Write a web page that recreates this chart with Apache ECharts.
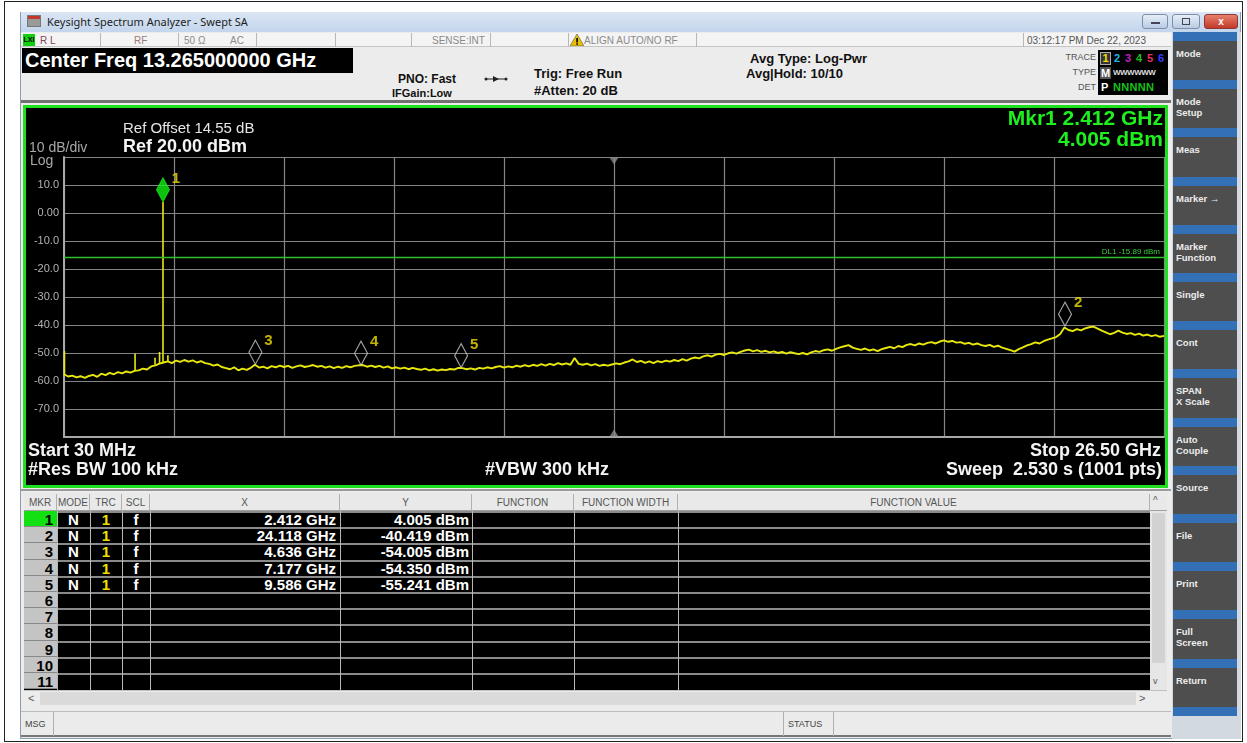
<!DOCTYPE html>
<html><head><meta charset="utf-8">
<script src="https://cdn.jsdelivr.net/npm/echarts@6.0.0/dist/echarts.min.js"></script>
<style>
html,body{margin:0;padding:0;background:#fff;width:1247px;height:743px;overflow:hidden;font-family:"Liberation Sans",Arial,sans-serif;}
.a{position:absolute;box-sizing:border-box;white-space:nowrap;}
.st{font-size:10px;color:#8a8a8a;top:35px;}
.sep{top:33px;height:14px;width:1px;background:#b8b8b8;}
.btn{position:absolute;left:1173px;width:64px;background:#4e4e4e;color:#ececec;font:bold 9.5px "Liberation Sans",Arial,sans-serif;padding:7px 0 0 3px;line-height:11px;box-sizing:border-box;}
.blue{position:absolute;left:1173px;width:64px;background:#3470b6;}
.hd{top:494px;height:17px;font-size:10px;color:#555;text-align:center;line-height:17px;border-right:1px solid #b0b0b0;}
.cell{font:bold 15px "Liberation Sans Narrow","Liberation Sans",Arial,sans-serif;line-height:16px;height:16px;color:#fff;}
</style>
</head><body>
<div class="a" style="left:4px;top:1px;width:1239px;height:741px;border:1px solid #222;"></div>
<!-- window -->
<div class="a" style="left:20px;top:12px;width:1221px;height:727px;background:#ececec;border:1px solid #8b9bb0;"></div>
<div class="a" style="left:21px;top:12px;width:1219px;height:20px;background:linear-gradient(#dbe6f4,#c3d5ec);"></div>
<div class="a" style="left:27px;top:15px;width:14px;height:12px;background:linear-gradient(#c0392b 0 35%,#9a9a9a 35%);border:1px solid #777;"></div>
<div class="a" style="left:47px;top:14px;font:11px 'Noto Sans','Open Sans',sans-serif;color:#1c1c1c;">Keysight Spectrum Analyzer - Swept SA</div>
<div class="a" style="left:1142px;top:14px;width:26px;height:15px;border:1px solid #7d8fa8;border-radius:3px;background:linear-gradient(#e6eef8,#b9cbe3);"><div class="a" style="left:8px;top:7px;width:9px;height:2px;background:#445;"></div></div>
<div class="a" style="left:1172px;top:14px;width:28px;height:15px;border:1px solid #7d8fa8;border-radius:3px;background:linear-gradient(#e6eef8,#b9cbe3);"><div class="a" style="left:9px;top:3px;width:8px;height:7px;border:1px solid #445;"></div></div>
<div class="a" style="left:1204px;top:14px;width:34px;height:15px;border:1px solid #8a3a30;border-radius:3px;background:linear-gradient(#e8806e,#c23a28);color:#fff;font:bold 10px Arial;text-align:center;line-height:13px;">x</div>

<!-- status row -->
<div class="a" style="left:21px;top:33px;width:1150px;height:14px;background:#f4f4f4;border-bottom:1px solid #c4c4c4;"></div>
<div class="a" style="left:23px;top:34px;width:12px;height:12px;background:#10d010;font:bold 7px Arial;color:#000;line-height:12px;text-align:center;">LXI</div>
<div class="a st" style="left:40px;color:#7d4656;">R L</div>
<div class="a st" style="left:134px;color:#9a7a7a;">RF</div>
<div class="a st" style="left:184px;">50 Ω</div>
<div class="a st" style="left:230px;">AC</div>
<div class="a st" style="left:432px;">SENSE:INT</div>
<svg class="a" style="left:570px;top:34px;" width="14" height="12"><polygon points="7,0 14,12 0,12" fill="#e8c000" stroke="#555" stroke-width="0.6"/><rect x="6.3" y="4" width="1.6" height="4.5" fill="#000"/><rect x="6.3" y="9.3" width="1.6" height="1.5" fill="#000"/></svg>
<div class="a st" style="left:584px;">ALIGN AUTO/NO RF</div>
<div class="a st" style="left:1027px;color:#555;">03:12:17 PM Dec 22, 2023</div>
<div class="a sep" style="left:100px"></div><div class="a sep" style="left:178px"></div><div class="a sep" style="left:256px"></div>
<div class="a sep" style="left:335px"></div><div class="a sep" style="left:411px"></div><div class="a sep" style="left:490px"></div>
<div class="a sep" style="left:568px"></div><div class="a sep" style="left:696px"></div><div class="a sep" style="left:1023px"></div>

<!-- info area -->
<div class="a" style="left:22px;top:48px;width:331px;height:25px;background:#000;color:#fff;font:bold 20px 'Liberation Sans',Arial;line-height:25px;padding-left:3px;">Center Freq 13.265000000 GHz</div>
<div class="a" style="left:398px;top:72px;font:bold 12px 'Liberation Sans';color:#111;">PNO: Fast</div>
<div class="a" style="left:392px;top:87px;font:bold 11px 'Liberation Sans';color:#111;">IFGain:Low</div>
<svg class="a" style="left:484px;top:75px;" width="24" height="8"><line x1="1" y1="4" x2="23" y2="4" stroke="#222" stroke-width="1"/><circle cx="2" cy="4" r="1.5" fill="#222"/><circle cx="22" cy="4" r="1.5" fill="#222"/><polygon points="9,1 15,4 9,7" fill="#222"/></svg>
<div class="a" style="left:534px;top:66px;font:bold 13px 'Liberation Sans';color:#111;">Trig: Free Run</div>
<div class="a" style="left:534px;top:83px;font:bold 13px 'Liberation Sans';color:#111;">#Atten: 20 dB</div>
<div class="a" style="left:750px;top:51px;font:bold 13px 'Liberation Sans';color:#111;">Avg Type: Log-Pwr</div>
<div class="a" style="left:746px;top:66px;font:bold 13px 'Liberation Sans';color:#111;">Avg|Hold: 10/10</div>
<div class="a" style="left:1050px;top:52px;width:46px;text-align:right;font:9px 'Liberation Sans';color:#555;">TRACE</div>
<div class="a" style="left:1050px;top:67px;width:46px;text-align:right;font:9px 'Liberation Sans';color:#555;">TYPE</div>
<div class="a" style="left:1050px;top:82px;width:46px;text-align:right;font:9px 'Liberation Sans';color:#555;">DET</div>
<div class="a" style="left:1098px;top:50px;width:70px;height:45px;background:#000;font:bold 11px 'Liberation Sans';">
  <div class="a" style="left:2px;top:2px;width:11px;height:13px;border:1px solid #aaa;background:#333;color:#f0e000;text-align:center;line-height:11px;">1</div>
  <div class="a" style="left:16px;top:2px;color:#20b8e8;">2</div>
  <div class="a" style="left:27px;top:2px;color:#c020c0;">3</div>
  <div class="a" style="left:38px;top:2px;color:#20c020;">4</div>
  <div class="a" style="left:49px;top:2px;color:#e83060;">5</div>
  <div class="a" style="left:60px;top:2px;color:#3a3aff;">6</div>
  <div class="a" style="left:2px;top:17px;width:11px;height:12px;background:#555;color:#fff;text-align:center;line-height:12px;">M</div>
  <div class="a" style="left:15px;top:18px;color:#ddd;font-size:8px;letter-spacing:-0.5px;">WWWWWW</div>
  <div class="a" style="left:3px;top:31px;color:#fff;">P</div>
  <div class="a" style="left:15px;top:31px;color:#19c019;letter-spacing:0.3px;">NNNNN</div>
</div>
<div class="a" style="left:21px;top:100px;width:1150px;height:3px;background:#707070;"></div>

<!-- plot panel -->
<div class="a" style="left:23px;top:105px;width:1145px;height:383px;border:3px solid #1ee01e;background:#000;">
  <div id="plot" style="position:absolute;left:0;top:0;width:1139px;height:377px;"></div>
</div>
<div class="a" style="left:21px;top:489px;width:1150px;height:2px;background:#9a9a9a;"></div>

<!-- marker table -->
<div id="table" class="a" style="left:24px;top:493px;width:1143px;height:214px;background:#000;"></div>

<!-- msg bar -->
<div class="a" style="left:21px;top:711px;width:1150px;height:26px;background:#ebebeb;border-top:1px solid #bcbcbc;border-bottom:2px solid #777;"></div>
<div class="a" style="left:25px;top:719px;font:9px 'Liberation Sans';color:#444;">MSG</div>
<div class="a" style="left:53px;top:712px;width:1px;height:24px;background:#b0b0b0;"></div>
<div class="a" style="left:783px;top:712px;width:1px;height:24px;background:#b0b0b0;"></div>
<div class="a" style="left:788px;top:719px;font:9px 'Liberation Sans';color:#444;">STATUS</div>
<div class="a" style="left:833px;top:712px;width:1px;height:24px;background:#b0b0b0;"></div>

<!-- sidebar -->
<div class="a" style="left:1172px;top:32px;width:69px;height:707px;background:#d3d9e1;"></div>
<div id="side"></div>

<script>
// ---------------- data ----------------
const START_GHZ = 0.03;
const STOP_GHZ = 26.5;
const REF_LEVEL_DBM = 20;
const DB_PER_DIV = 10;
const DISPLAY_LINE_DBM = -15.89;

// trace (dBm), evenly spaced sweep points from START_GHZ to STOP_GHZ
const traceLevels = [
-57.6,-58.4,-58.1,-58.7,-58.3,-58.9,-58.2,-57.8,-58.5,-57.4,
-57.9,-57.1,-57.6,-56.8,-57.3,-56.6,-57.0,-56.4,-56.2,-55.6,
-55.9,-54.8,-54.4,-53.8,-53.4,-53.0,-53.6,-52.7,-53.2,-52.5,
-53.1,-52.6,-53.4,-52.9,-53.6,-53.9,-54.5,-54.1,-55.0,-55.4,
-55.8,-55.1,-56.2,-55.6,-56.0,-55.3,-54.2,-55.2,-54.9,-55.5,
-54.7,-55.1,-54.5,-55.0,-54.6,-55.3,-54.8,-54.4,-55.0,-54.7,
-54.3,-54.9,-54.6,-55.2,-54.8,-55.4,-54.9,-55.3,-54.7,-55.1,
-54.6,-54.4,-54.3,-54.9,-54.5,-55.0,-54.6,-55.2,-54.8,-55.5,
-55.1,-55.6,-55.2,-55.8,-55.3,-55.7,-56.0,-55.6,-56.2,-55.8,
-56.3,-55.9,-56.1,-55.7,-55.9,-55.3,-55.4,-55.8,-55.5,-55.9,
-55.3,-55.6,-55.1,-55.5,-55.0,-54.7,-55.2,-54.8,-55.1,-54.5,
-54.9,-54.3,-54.8,-54.2,-54.6,-54.0,-54.5,-53.9,-54.3,-53.6,
-54.1,-53.7,-54.2,-51.8,-53.9,-54.2,-53.8,-54.4,-54.0,-54.6,
-54.2,-54.5,-54.1,-53.7,-54.0,-53.4,-53.0,-52.3,-53.2,-52.8,
-53.5,-53.0,-53.6,-52.9,-53.3,-52.7,-53.1,-52.5,-52.9,-52.2,
-52.7,-52.0,-51.6,-51.9,-51.2,-50.8,-51.3,-50.6,-50.3,-50.7,
-50.1,-49.8,-50.2,-49.6,-49.1,-48.8,-49.4,-49.0,-49.6,-49.2,
-49.8,-49.4,-50.0,-49.6,-50.2,-49.7,-50.1,-50.4,-50.0,-50.5,
-49.8,-49.3,-49.6,-49.0,-48.7,-49.2,-48.5,-48.0,-47.6,-47.2,
-48.1,-48.5,-48.9,-48.4,-49.1,-48.7,-49.3,-48.6,-48.2,-47.8,
-48.3,-47.5,-47.9,-47.1,-46.8,-47.3,-46.6,-47.0,-46.4,-46.1,
-46.6,-45.9,-45.5,-46.0,-45.7,-46.3,-46.1,-46.7,-46.4,-47.0,
-46.6,-47.2,-47.5,-47.1,-47.8,-47.4,-48.1,-48.5,-49.0,-49.5,
-48.6,-48.0,-47.3,-46.8,-46.2,-46.6,-45.8,-45.2,-44.8,-44.3,
-43.2,-40.9,-41.8,-42.2,-41.5,-41.9,-41.2,-40.8,-40.6,-41.3,
-42.0,-42.6,-43.3,-42.8,-42.0,-42.7,-43.2,-42.9,-43.5,-43.1,
-43.8,-43.4,-44.0,-43.6,-44.2,-43.9
];

// narrow spurs on the trace
const spurFreqsGHz = [0.04, 1.74, 2.22, 2.33, 2.412, 2.53];
const spurPeaksDbm = [-49.3, -50.2, -51.7, -49.6, 4.005, -50.8];
const spurBasesDbm = [-57.8, -56.4, -54.2, -53.8, -53.4, -53.0];

// markers
const markerIds = [1, 2, 3, 4, 5];
const markerFreqsGHz = [2.412, 24.118, 4.636, 7.177, 9.586];
const markerLevelsDbm = [4.005, -40.419, -54.005, -54.350, -55.241];

// softkeys
const softkeys = ['Mode','Mode<br>Setup','Meas','Marker →','Marker<br>Function','Single','Cont','SPAN<br>X Scale','Auto<br>Couple','Source','File','Print','Full<br>Screen','Return'];
const tableHeaders = ['MKR','MODE','TRC','SCL','X','Y','FUNCTION','FUNCTION WIDTH','FUNCTION VALUE'];

// ---------------- sidebar ----------------
(function(){
  let h = '';
  const period = 48.2;
  softkeys.forEach((k, i) => {
    const t = 32 + period * i;
    h += `<div class="blue" style="top:${t}px;height:9px;"></div>`;
    h += `<div class="btn" style="top:${t+9}px;height:${period-9}px;">${k}</div>`;
  });
  h += `<div class="blue" style="top:${32+period*softkeys.length}px;height:9px;"></div>`;
  document.getElementById('side').innerHTML = h;
})();

// ---------------- marker table ----------------
(function(){
  const colX = [0, 33, 66, 98, 126, 316, 448, 550, 654, 1126]; // relative to table left (24)
  const tbl = document.getElementById('table');
  let h = `<div class="a" style="left:0;top:0;width:1143px;height:18px;background:#e9e9e9;border-bottom:1px solid #a0a0a0;"></div>`;
  tableHeaders.forEach((t, i) => {
    h += `<div class="a hd" style="left:${colX[i]}px;top:1px;width:${colX[i+1]-colX[i]}px;">${t}</div>`;
  });
  h += `<div class="a" style="left:1126px;top:18px;width:17px;height:179px;background:#e6e6e6;"></div>`;
  h += `<div class="a" style="left:1128px;top:20px;width:13px;height:150px;background:#d2d2d2;"></div>`;
  h += `<div class="a" style="left:1129px;top:2px;font:10px 'Liberation Sans';color:#555;">^</div>`;
  h += `<div class="a" style="left:1129px;top:183px;font:9px 'Liberation Sans';color:#555;">v</div>`;
  const rowH = 16.2;
  for (let r = 0; r < 11; r++) {
    const top = 18 + r * rowH;
    h += `<div class="a" style="left:33px;top:${top}px;width:1093px;height:2px;background:#8a8a8a;"></div>`;
    const mkBg = r === 0 ? '#12e012' : '#c4c4c4';
    h += `<div class="a cell" style="left:0;top:${top}px;width:33px;background:${mkBg};color:#000;text-align:right;padding-right:4px;height:${rowH}px;line-height:${rowH+1}px;border-bottom:1px solid #888;">${r+1}</div>`;
    if (r < markerIds.length) {
      const y = top + 1;
      h += `<div class="a cell" style="left:33px;top:${y}px;width:33px;text-align:center;">N</div>`;
      h += `<div class="a cell" style="left:66px;top:${y}px;width:32px;text-align:center;color:#f0e000;">1</div>`;
      h += `<div class="a cell" style="left:98px;top:${y}px;width:28px;text-align:center;">f</div>`;
      h += `<div class="a cell" style="left:126px;top:${y}px;width:190px;text-align:right;padding-right:4px;">${markerFreqsGHz[r].toFixed(3)} GHz</div>`;
      h += `<div class="a cell" style="left:316px;top:${y}px;width:132px;text-align:right;padding-right:3px;">${markerLevelsDbm[r].toFixed(3)} dBm</div>`;
    }
  }
  for (let i = 1; i < colX.length - 1; i++) {
    h += `<div class="a" style="left:${colX[i]}px;top:18px;width:1px;height:179px;background:#b8b8b8;"></div>`;
  }
  h += `<div class="a" style="left:0;top:197px;width:1143px;height:17px;background:#ececec;border-top:1px solid #c0c0c0;"></div>`;
  h += `<div class="a" style="left:16px;top:199px;width:1096px;height:13px;background:#dadada;"></div>`;
  h += `<div class="a" style="left:4px;top:199px;font:11px 'Liberation Sans';color:#555;">&lt;</div>`;
  h += `<div class="a" style="left:1115px;top:199px;font:11px 'Liberation Sans';color:#555;">&gt;</div>`;
  tbl.innerHTML = h;
})();

// ---------------- chart ----------------
const chart = echarts.init(document.getElementById('plot'), null, {renderer: 'canvas'});
const nPts = traceLevels.length;
const stepGHz = (STOP_GHZ - START_GHZ) / (nPts - 1);
const traceData = traceLevels.map((v, i) => [START_GHZ + i * stepGHz, v]);
const yMin = REF_LEVEL_DBM - 10 * DB_PER_DIV;
const TRACE_COLOR = '#e8e80c';
const F = '"Liberation Sans", Arial, sans-serif';

const spurSeries = spurFreqsGHz.map((f, i) => ({
  type: 'line', xAxisIndex: 0, yAxisIndex: 0, symbol: 'none', silent: true, z: 3,
  lineStyle: {color: TRACE_COLOR, width: 1.6},
  data: [[f, spurBasesDbm[i]], [f, spurPeaksDbm[i]]]
}));

const option = {
  backgroundColor: '#000',
  animation: false,
  grid: {left: 38, top: 49, width: 1100, height: 280, containLabel: false},
  xAxis: [
    {type: 'value', min: START_GHZ, max: STOP_GHZ, show: false},
    {type: 'value', min: 0, max: 10, interval: 1, position: 'bottom',
     axisLine: {show: true, onZero: false, lineStyle: {color: '#a8a8a8', width: 2}},
     axisTick: {show: false}, axisLabel: {show: false},
     splitLine: {show: true, lineStyle: {color: '#858585', width: 1.2}}}
  ],
  yAxis: {
    type: 'value', min: yMin, max: REF_LEVEL_DBM, interval: DB_PER_DIV,
    axisLine: {show: true, lineStyle: {color: '#a8a8a8', width: 2}},
    axisTick: {show: false},
    splitLine: {show: true, lineStyle: {color: '#858585', width: 1.2}},
    axisLabel: {color: '#b2b2b2', fontSize: 11, fontFamily: F, margin: 5,
      showMinLabel: false, showMaxLabel: false,
      formatter: v => v === 0 ? '0.00' : v.toFixed(1)}
  },
  series: [
    {
      type: 'line', xAxisIndex: 0, data: traceData, symbol: 'none', z: 3,
      lineStyle: {color: TRACE_COLOR, width: 1.9},
      markLine: {
        silent: true, symbol: 'none', z: 4,
        lineStyle: {color: '#2cc02c', width: 1.3, type: 'solid', opacity: 1},
        label: {show: true, position: 'insideEndTop', distance: [4, 2], color: '#3ad03a', fontSize: 8, fontFamily: F,
          formatter: 'DL1 ' + DISPLAY_LINE_DBM.toFixed(2) + ' dBm'},
        data: [{yAxis: DISPLAY_LINE_DBM}]
      }
    },
    ...spurSeries,
    {
      type: 'scatter', xAxisIndex: 0, z: 5, silent: true,
      symbol: 'diamond', symbolSize: [13, 24], symbolOffset: [0, -12],
      data: markerFreqsGHz.map((f, i) => ({
        value: [f, markerLevelsDbm[i]],
        name: String(markerIds[i]),
        itemStyle: i === 0 ? {color: '#14f014', borderColor: '#14f014', borderWidth: 1}
                           : {color: 'rgba(0,0,0,0)', borderColor: '#cfcfcf', borderWidth: 1.2}
      })),
      label: {show: true, position: 'right', distance: 2, offset: [0, -11],
        formatter: p => p.name, color: '#f0e000', fontSize: 15, fontWeight: 'bold', fontFamily: F}
    },
    {
      type: 'scatter', xAxisIndex: 1, z: 4, silent: true, symbol: 'triangle',
      itemStyle: {color: '#8c8c8c'},
      data: [
        {value: [5, REF_LEVEL_DBM], symbolSize: [9, 7], symbolRotate: 180, symbolOffset: [0, 4]},
        {value: [5, yMin], symbolSize: [9, 7], symbolRotate: 0, symbolOffset: [0, -4]}
      ]
    }
  ],
  graphic: [
    {type: 'text', left: 97, top: 13, style: {text: 'Ref Offset 14.55 dB', fill: '#e6e6e6', font: '15px ' + F}},
    {type: 'text', left: 97, top: 30, style: {text: 'Ref ' + REF_LEVEL_DBM.toFixed(2) + ' dBm', fill: '#f4f4f4', font: 'bold 18px ' + F}},
    {type: 'text', left: 3, top: 33, style: {text: DB_PER_DIV + ' dB/div', fill: '#a8a8a8', font: '14px ' + F}},
    {type: 'text', left: 4, top: 46, style: {text: 'Log', fill: '#a8a8a8', font: '14px ' + F}},
    {type: 'text', right: 2, top: 1, style: {text: 'Mkr1 ' + markerFreqsGHz[0].toFixed(3) + ' GHz', fill: '#1ef01e', font: 'bold 21px ' + F}},
    {type: 'text', right: 2, top: 22, style: {text: markerLevelsDbm[0].toFixed(3) + ' dBm', fill: '#1ef01e', font: 'bold 21px ' + F}},
    {type: 'text', left: 2, top: 334, style: {text: 'Start 30 MHz', fill: '#f4f4f4', font: 'bold 18px ' + F}},
    {type: 'text', left: 2, top: 353, style: {text: '#Res BW 100 kHz', fill: '#f4f4f4', font: 'bold 18px ' + F}},
    {type: 'text', left: 459, top: 353, style: {text: '#VBW 300 kHz', fill: '#f4f4f4', font: 'bold 18px ' + F}},
    {type: 'text', right: 4, top: 334, style: {text: 'Stop ' + STOP_GHZ.toFixed(2) + ' GHz', fill: '#f4f4f4', font: 'bold 18px ' + F}},
    {type: 'text', right: 3, top: 353, style: {text: 'Sweep  2.530 s (1001 pts)', fill: '#f4f4f4', font: 'bold 18px ' + F}}
  ]
};
chart.setOption(option);
</script>
</body></html>
